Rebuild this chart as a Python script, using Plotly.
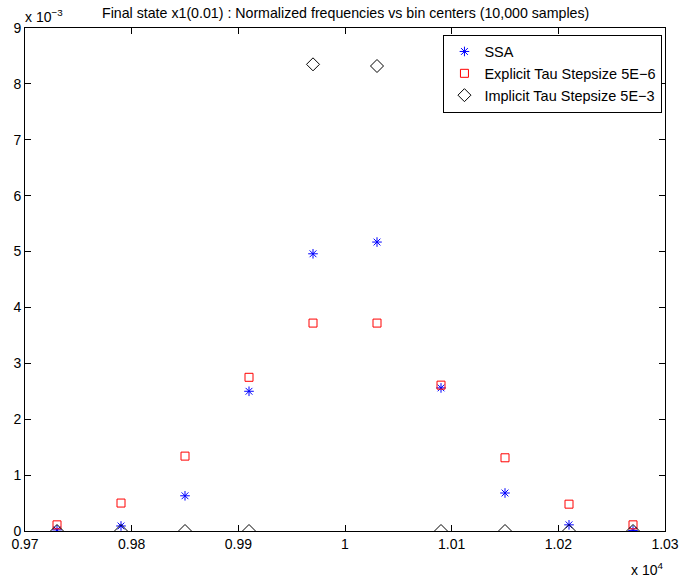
import plotly.graph_objects as go

# Bin centers and normalized frequencies for the final state x1(0.01)
bin_centers = [9730, 9790, 9850, 9910, 9970, 10030, 10090, 10150, 10210, 10270]
ssa = [0.00002, 0.00009, 0.00063, 0.00250, 0.00496, 0.00517, 0.00256, 0.00068, 0.00011, 0.00001]
explicit_tau = [0.00011, 0.00050, 0.00134, 0.00275, 0.00372, 0.00372, 0.00261, 0.00131, 0.00048, 0.00011]
implicit_tau = [0.0, 0.0, 0.0, 0.0, 0.00835, 0.00832, 0.0, 0.0, 0.0, 0.0]

x_tickvals = [9700, 9800, 9900, 10000, 10100, 10200, 10300]
x_ticktext = ["0.97", "0.98", "0.99", "1", "1.01", "1.02", "1.03"]
y_tickvals = [i * 0.001 for i in range(10)]
y_ticktext = [str(i) for i in range(10)]

FONT = "Liberation Sans, Arial, Helvetica, sans-serif"
FS = 14

fig = go.Figure()
fig.add_trace(go.Scatter(
    x=bin_centers, y=ssa, mode="markers", name="SSA",
    marker=dict(symbol="asterisk-open", size=8, color="blue",
                line=dict(color="blue", width=1)),
))
fig.add_trace(go.Scatter(
    x=bin_centers, y=explicit_tau, mode="markers", name="Explicit Tau Stepsize 5E\u22126",
    marker=dict(symbol="square-open", size=8, color="red",
                line=dict(color="red", width=1)),
))
fig.add_trace(go.Scatter(
    x=bin_centers, y=implicit_tau, mode="markers", name="Implicit Tau Stepsize 5E\u22123",
    marker=dict(symbol="diamond-open", size=10, color="black",
                line=dict(color="black", width=1)),
))

axis_common = dict(
    showgrid=False, zeroline=False, showline=True, linecolor="black", linewidth=1,
    mirror="ticks", ticks="inside", ticklen=6, tickcolor="black", tickwidth=1,
    tickfont=dict(family=FONT, size=FS, color="black"), automargin=False,
)

fig.update_layout(
    width=680, height=580,
    margin=dict(l=25, r=15, t=28, b=49, autoexpand=False),
    paper_bgcolor="white", plot_bgcolor="white",
    font=dict(family=FONT, size=FS, color="black"),
    showlegend=True,
    legend=dict(
        x=0.996, y=0.987, xanchor="right", yanchor="top",
        bordercolor="black", borderwidth=1, bgcolor="white",
        font=dict(family=FONT, size=14.5, color="black"),
        tracegroupgap=0,
    ),
    xaxis=dict(range=[9700, 10300], tickvals=x_tickvals, ticktext=x_ticktext, **axis_common),
    yaxis=dict(range=[0, 0.009], tickvals=y_tickvals, ticktext=y_ticktext, **axis_common),
    annotations=[
        dict(text="Final state x1(0.01) : Normalized frequencies vs bin centers (10,000 samples)",
             xref="paper", yref="paper", x=0.5, y=1, yshift=15, showarrow=False,
             xanchor="center", yanchor="middle", font=dict(family=FONT, size=14.2)),
        dict(text="x 10<sup>\u22123</sup>", xref="paper", yref="paper", x=0, y=1,
             xshift=-2, yshift=12, showarrow=False, xanchor="left", yanchor="middle",
             font=dict(family=FONT, size=FS)),
        dict(text="x 10<sup>4</sup>", xref="paper", yref="paper", x=1, y=0,
             xshift=0, yshift=-38, showarrow=False, xanchor="right", yanchor="middle",
             font=dict(family=FONT, size=FS)),
    ],
)

fig.write_html("out.html")
